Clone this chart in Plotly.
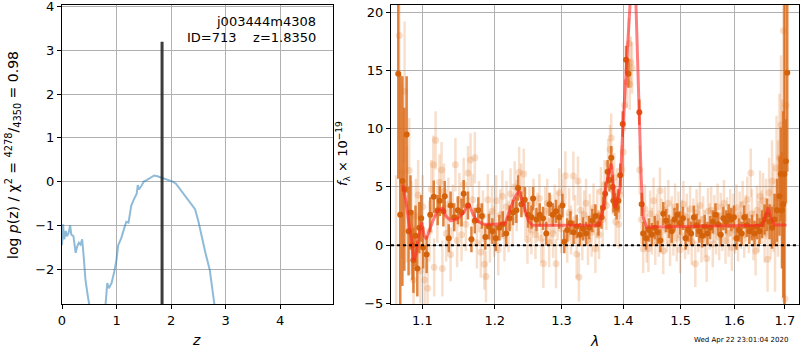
import plotly.graph_objects as go
import math

# ---------------- left panel: p(z) ----------------
pz_z1 = [0.00, 0.02, 0.04, 0.07, 0.09, 0.12, 0.15, 0.17, 0.21, 0.25, 0.28, 0.31, 0.34, 0.37, 0.40, 0.43, 0.48, 0.52]
pz_v1 = [-1.45, -0.98, -1.32, -1.13, -1.25, -1.18, -1.00, -1.21, -1.25, -1.63, -1.48, -1.40, -1.44, -1.32, -1.75, -2.25, -2.67, -2.95]
pz_z2 = [0.79, 0.81, 0.83, 0.86, 0.91, 0.96, 1.00, 1.03, 1.09, 1.15, 1.18, 1.22, 1.27, 1.32, 1.37, 1.39, 1.41, 1.46, 1.50,
         1.56, 1.62, 1.69, 1.75, 1.82, 1.92, 2.03, 2.09, 2.16, 2.25, 2.36, 2.44, 2.50, 2.56, 2.63, 2.71, 2.77, 2.81]
pz_v2 = [-2.95, -2.60, -2.32, -2.44, -2.32, -2.05, -1.78, -1.46, -1.28, -1.03, -0.92, -0.94, -0.55, -0.40, -0.28, -0.08,
         -0.18, -0.09, 0.00, 0.04, 0.08, 0.14, 0.12, 0.09, 0.05, 0.00, -0.05, -0.17, -0.32, -0.49, -0.63, -0.90, -1.25,
         -1.63, -2.02, -2.55, -2.95]
z_best = 1.835
z_best_top = 3.2

# ---------------- right panel: spectrum ----------------
dark_lam = [1.0687, 1.0712, 1.0740, 1.0765, 1.0795, 1.0820, 1.0845, 1.0870, 1.0883, 1.0910, 1.0934, 1.0960, 1.0985,
            1.1010, 1.1057, 1.1105, 1.1152, 1.1205, 1.1233, 1.1282, 1.1300, 1.1355, 1.1380, 1.1430, 1.1480, 1.1530,
            1.1560, 1.1620, 1.1668, 1.1715, 1.1765, 1.1815, 1.1865, 1.1915, 1.1965, 1.2015, 1.2065, 1.2115, 1.2165,
            1.2215, 1.2265, 1.2315, 1.2340, 1.2390, 1.2440, 1.2490, 1.2540, 1.2565, 1.2615, 1.2665, 1.2715, 1.2765,
            1.2815, 1.2865, 1.2915, 1.2965, 1.3015, 1.3044, 1.3090, 1.3140, 1.3190, 1.3240, 1.3290, 1.3340, 1.3390,
            1.3440, 1.3490, 1.3540, 1.3590, 1.3640, 1.3665, 1.3700, 1.3740, 1.3770, 1.3801, 1.3825, 1.3836, 1.3866,
            1.3890, 1.3920, 1.3950, 1.3992, 1.4048, 1.4088, 1.4274, 1.4314, 1.4340, 1.4390, 1.4440, 1.4490, 1.4540,
            1.4590, 1.4640, 1.4690, 1.4740, 1.4790, 1.4840, 1.4890, 1.4940, 1.4990, 1.5040, 1.5090, 1.5140, 1.5190,
            1.5240, 1.5290, 1.5340, 1.5390, 1.5440, 1.5490, 1.5540, 1.5590, 1.5640, 1.5690, 1.5740, 1.5790, 1.5840,
            1.5890, 1.5940, 1.5990, 1.6040, 1.6090, 1.6140, 1.6190, 1.6240, 1.6290, 1.6340, 1.6390, 1.6440, 1.6490,
            1.6540, 1.6590, 1.6640, 1.6690, 1.6740, 1.6790, 1.6840, 1.6890, 1.6915, 1.6940, 1.6965, 1.6990, 1.7020,
            1.7048]
dark_flux = [14.7, 2.6, 5.5, 4.8, 9.5, 1.2, 2.8, 0.0, -1.3, 0.8, -2.0, 1.5, 2.3,
             -0.2, -0.8, 2.6, 4.15, 3.0, 3.8, 2.9, 4.2, 0.6, 3.4, 2.4, 3.0, 2.8,
             4.4, 3.4, 0.5, 2.1, 3.0, 2.5, 0.7, 1.6, 1.2, 0.6, 1.5, 1.8, 1.0,
             2.3, 2.8, 3.0, 4.9, 3.5, 3.9, 2.6, 2.4, 4.0, 2.2, 2.6, 2.3, 1.0,
             3.5, 2.6, 2.9, 2.4, 3.4, 0.3, 1.3, 1.9, 1.1, 1.6, 0.9, 1.4, 1.0,
             1.5, 2.1, 2.5, 1.8, 2.4, 3.2, 4.4, 6.3, 5.6, 7.5, 5.0, 3.8, 3.5,
             3.2, 3.8, 6.0, 10.4, 15.9, 14.7, 11.4, 3.5, 1.0, 0.6, 1.3, 0.9, 1.5,
             1.1, 0.4, 2.7, 2.1, 1.6, 1.2, 2.2, 2.6, 1.9, 2.3, 0.6, 1.3, 1.0,
             2.4, 1.7, 1.2, 0.8, 1.6, 1.0, 1.5, 2.0, 2.6, 1.8, 0.9, 2.3, 2.0,
             2.5, 2.2, 2.4, 0.6, 1.3, 1.0, 2.4, 1.7, 1.2, 1.5, 1.0, 1.6, 1.2,
             1.8, 2.2, 2.6, 2.0, 1.5, 2.2, 3.0, 4.2, 6.1, 3.0, 3.5, 6.1, 7.2,
             14.8]
dark_err = [9.0, 12.0, 9.0, 7.0, 5.0, 3.8, 3.2, 3.0, 2.8, 2.6, 2.4, 2.2, 2.0,
            1.8, 1.6, 1.5, 1.4, 1.3, 1.3, 1.3, 1.3, 1.2, 1.2, 1.2, 1.2, 1.2,
            1.2, 1.2, 1.1, 1.1, 1.1, 1.1, 1.1, 1.1, 1.1, 1.1, 1.1, 1.1, 1.1,
            1.1, 1.1, 1.1, 1.1, 1.1, 1.1, 1.1, 1.0, 1.0, 1.0, 1.0, 1.0, 1.0,
            1.0, 1.0, 1.0, 1.0, 1.0, 1.0, 1.0, 1.0, 1.0, 1.0, 1.0, 1.0, 1.0,
            1.0, 1.0, 1.0, 1.0, 1.0, 1.0, 1.0, 1.0, 1.0, 1.0, 1.0, 1.0, 1.0,
            1.0, 1.0, 1.0, 1.1, 1.2, 1.2, 1.1, 1.0, 1.0, 1.0, 1.0, 1.0, 1.0,
            1.0, 1.0, 1.0, 1.0, 1.0, 1.0, 1.0, 1.0, 1.0, 1.0, 1.0, 1.0, 1.0,
            1.0, 1.0, 1.0, 1.0, 1.0, 1.0, 1.0, 1.0, 1.0, 1.0, 1.0, 1.0, 1.0,
            1.0, 1.0, 1.0, 1.0, 1.0, 1.0, 1.0, 1.0, 1.1, 1.1, 1.1, 1.1, 1.1,
            1.2, 1.3, 1.4, 1.5, 1.8, 2.2, 2.7, 3.4, 4.0, 5.0, 8.0, 15.0, 3.6,
            8.5]

pale_lam = [1.0660, 1.0700, 1.0735, 1.0768, 1.0800, 1.0828, 1.0858, 1.0885, 1.0915, 1.0945, 1.0975, 1.1005, 1.1031, 1.1070,
            1.1095, 1.1120, 1.1146, 1.1157, 1.1177, 1.1200, 1.1228, 1.1257, 1.1268, 1.1290, 1.1320, 1.1350, 1.1380, 1.1410,
            1.1446, 1.1470, 1.1500, 1.1530, 1.1560, 1.1590, 1.1620, 1.1656, 1.1685, 1.1716, 1.1745, 1.1775, 1.1800, 1.1830,
            1.1851, 1.1874, 1.1900, 1.1930, 1.1960, 1.1990, 1.2020, 1.2050, 1.2080, 1.2110, 1.2140, 1.2170, 1.2200, 1.2230,
            1.2260, 1.2290, 1.2320, 1.2356, 1.2385, 1.2424, 1.2450, 1.2480, 1.2510, 1.2540, 1.2570, 1.2600, 1.2630, 1.2660,
            1.2690, 1.2721, 1.2750, 1.2780, 1.2810, 1.2840, 1.2870, 1.2895, 1.2915, 1.2940, 1.2967, 1.2995, 1.3025, 1.3061,
            1.3090, 1.3120, 1.3150, 1.3187, 1.3215, 1.3240, 1.3261, 1.3275, 1.3300, 1.3330, 1.3360, 1.3390, 1.3420, 1.3450,
            1.3480, 1.3510, 1.3540, 1.3570, 1.3600, 1.3630, 1.3660, 1.3690, 1.3720, 1.3750, 1.3780, 1.3800, 1.3825, 1.3850,
            1.3875, 1.3900, 1.3925, 1.3950, 1.3975, 1.4000, 1.4025, 1.4060, 1.4097, 1.4110, 1.4129, 1.4150, 1.4280, 1.4310,
            1.4340, 1.4370, 1.4400, 1.4430, 1.4460, 1.4490, 1.4520, 1.4550, 1.4580, 1.4610, 1.4632, 1.4660, 1.4690, 1.4720,
            1.4750, 1.4780, 1.4810, 1.4840, 1.4870, 1.4900, 1.4930, 1.4960, 1.4990, 1.5020, 1.5050, 1.5080, 1.5110, 1.5140,
            1.5170, 1.5200, 1.5230, 1.5266, 1.5290, 1.5320, 1.5350, 1.5380, 1.5410, 1.5440, 1.5476, 1.5500, 1.5530, 1.5560,
            1.5590, 1.5620, 1.5650, 1.5680, 1.5710, 1.5740, 1.5770, 1.5800, 1.5830, 1.5860, 1.5890, 1.5920, 1.5950, 1.5980,
            1.6010, 1.6040, 1.6070, 1.6100, 1.6130, 1.6160, 1.6190, 1.6220, 1.6250, 1.6280, 1.6317, 1.6340, 1.6370, 1.6413,
            1.6440, 1.6470, 1.6500, 1.6530, 1.6560, 1.6590, 1.6620, 1.6650, 1.6680, 1.6710, 1.6740, 1.6770, 1.6800, 1.6830,
            1.6860, 1.6890, 1.6920, 1.6945, 1.6970, 1.7000, 1.7020]
pale_flux = [-6.0, 18.0, 6.3, 13.2, 3.5, 6.4, 1.5, -3.0, 2.5, 4.3, -2.2, 3.3, -3.0, -3.7,
             1.2, 4.8, 6.9, -1.9, 9.0, 2.6, 5.4, 6.45, -2.0, 4.6, 1.0, 3.5, -0.8, 2.9,
             6.9, 0.4, 3.9, 0.9, 5.2, 1.8, 6.2, 7.3, 3.9, 7.5, 0.2, 3.3, -0.6, 2.5,
             -1.63, -2.7, 3.9, 0.7, 2.9, 1.2, 3.8, -0.4, 2.6, 4.2, 0.8, 3.3, 1.6, 4.4,
             2.2, 5.0, 3.4, 6.25, 4.8, 6.1, 2.8, 0.5, 2.9, 1.3, 3.6, 0.9, 2.4, 4.0,
             0.6, -1.58, 2.9, 3.6, 0.2, 2.2, 1.0, 3.1, -1.6, 2.5, 4.5, 1.4, 3.6, 5.96,
             0.6, 2.8, 1.3, 5.93, 2.2, -0.77, 5.5, -2.75, 3.0, 0.8, 2.6, 3.6, 0.4, 2.3,
             1.1, 3.2, -0.3, 2.7, 0.9, 4.6, 2.2, 5.2, 3.4, 7.0, 8.2, 9.2, 4.7, 5.8,
             2.0, 4.5, 1.8, 4.3, 6.5, 8.0, 12.0, 14.0, 17.3, 13.8, 15.7, 15.2, 6.45, 2.2,
             -0.3, 3.1, 0.6, -0.3, 2.7, 1.2, 3.8, 0.3, 2.4, 1.0, 4.67, 2.0, -0.5, 3.0,
             1.4, 3.6, 0.2, 2.2, 1.1, 3.3, 0.6, 2.6, -0.4, 1.9, 3.5, 0.8, 2.4, 1.2,
             3.1, 0.3, 2.0, -1.6, 2.8, 1.4, 3.4, 0.5, 2.2, 1.0, -1.15, 2.9, 1.6, 3.0,
             0.1, 2.3, 1.2, 3.3, 0.7, 2.5, 1.5, 3.6, 0.4, 2.1, 1.0, 2.8, -0.2, 2.4,
             1.3, 3.2, 0.6, 2.6, 1.7, 3.5, 0.9, 2.3, 3.9, 1.4, 6.2, 2.7, 0.8, -0.5,
             3.0, 1.6, 4.2, 2.4, 3.8, 1.0, 3.1, -1.2, 4.5, 2.0, 5.5, 3.2, 0.2, 6.6,
             4.0, 7.5, 10.3, 5.5, 18.4, -4.6, 12.0]
pale_err = [12.0, 9.0, 7.5, 6.0, 5.0, 4.5, 4.0, 3.5, 3.2, 3.0, 2.8, 2.7, 2.7, 2.6,
            2.6, 2.5, 2.5, 2.5, 2.5, 2.4, 2.4, 2.4, 2.4, 2.4, 2.4, 2.3, 2.3, 2.3,
            2.3, 2.3, 2.3, 2.3, 2.3, 2.3, 2.3, 2.3, 2.2, 2.2, 2.2, 2.2, 2.2, 2.2,
            2.2, 2.2, 2.2, 2.2, 2.2, 2.2, 2.2, 2.2, 2.2, 2.2, 2.2, 2.2, 2.2, 2.2,
            2.2, 2.2, 2.2, 2.2, 2.2, 2.2, 2.1, 2.1, 2.1, 2.1, 2.1, 2.1, 2.1, 2.1,
            2.1, 2.1, 2.1, 2.1, 2.1, 2.1, 2.1, 2.1, 2.1, 2.1, 2.1, 2.1, 2.1, 2.1,
            2.1, 2.1, 2.1, 2.1, 2.1, 2.1, 2.1, 2.1, 2.1, 2.1, 2.1, 2.1, 2.1, 2.1,
            2.1, 2.1, 2.1, 2.1, 2.1, 2.1, 2.1, 2.1, 2.1, 2.1, 2.1, 2.1, 2.1, 2.1,
            2.1, 2.1, 2.1, 2.1, 2.1, 2.1, 2.2, 2.2, 2.2, 2.2, 2.2, 2.2, 2.1, 2.1,
            2.1, 2.1, 2.1, 2.0, 2.0, 2.0, 2.0, 2.0, 2.0, 2.0, 2.0, 2.0, 2.0, 2.0,
            2.0, 2.0, 2.0, 2.0, 2.0, 2.0, 2.0, 2.0, 2.0, 2.0, 2.0, 2.0, 2.0, 2.0,
            2.0, 2.0, 2.0, 2.0, 2.0, 2.0, 2.0, 2.0, 2.0, 2.0, 2.0, 2.0, 2.0, 2.0,
            2.0, 2.0, 2.0, 2.0, 2.0, 2.0, 2.0, 2.0, 2.0, 2.0, 2.0, 2.0, 2.0, 2.0,
            2.0, 2.0, 2.0, 2.0, 2.0, 2.0, 2.0, 2.0, 2.0, 2.1, 2.1, 2.1, 2.1, 2.1,
            2.1, 2.2, 2.2, 2.3, 2.4, 2.5, 2.6, 2.8, 3.0, 3.2, 3.5, 3.8, 4.2, 4.5,
            5.0, 5.5, 6.0, 7.0, 8.0, 9.0, 10.0]

model_lam = [1.0745, 1.0790, 1.0830, 1.0860, 1.0887, 1.0917, 1.0961, 1.0992, 1.1026, 1.1053, 1.1092, 1.1158, 1.1203,
             1.1270, 1.1314, 1.1381, 1.1471, 1.1561, 1.1629, 1.1689, 1.1744, 1.1835, 1.2000, 1.2150, 1.2215, 1.2290,
             1.2355, 1.2421, 1.2493, 1.2551, 1.3000, 1.3600, 1.3668, 1.3720, 1.3765, 1.3801, 1.3836, 1.3866, 1.3901,
             1.3948, 1.3992, 1.4048, 1.4114, 1.4165, 1.4216, 1.4261, 1.4303, 1.4340, 1.4398, 1.4500, 1.5000, 1.5500,
             1.6000, 1.6540, 1.6600, 1.6664, 1.6720, 1.6787, 1.7035]
model_flux = [5.2, 3.6, 1.6, 0.4, -1.35, -0.77, 1.08, 1.94, 0.8, 0.52, 1.23, 2.37, 2.95,
              3.18, 2.52, 2.09, 2.24, 2.8, 3.58, 2.66, 2.09, 1.8, 1.8, 1.85, 2.95, 4.1,
              4.67, 3.5, 2.09, 1.7, 1.7, 1.7, 3.2, 5.2, 6.4, 7.0, 5.0, 3.2, 3.8,
              4.96, 9.8, 15.3, 20.66, 25.0, 20.66, 12.4, 6.1, 2.4, 1.55, 1.55, 1.58, 1.6,
              1.65, 1.7, 2.4, 3.23, 2.3, 1.72, 1.72]

wave_ticks = [1.1, 1.2, 1.3, 1.4, 1.5, 1.6, 1.7]
flux_ticks = [-5, 0, 5, 10, 15, 20]
z_ticks = [0, 1, 2, 3, 4]
lnp_ticks = [-2, -1, 0, 1, 2, 3, 4]

obj_name = "j003444m4308"
obj_id = 713
chi2_num, chi2_den, chi2_ratio = 4278, 4350, 0.98
timestamp = "Wed Apr 22 23:01:04 2020"

# ---------------- figure ----------------
W, H = 800, 350
FONT = "DejaVu Sans"
GRID = "#b0b0b0"


def fx(px):
    return px / W


def fy(py):
    return (H - py) / H


fig = go.Figure()

blue = "rgba(31,119,180,0.5)"
fig.add_trace(go.Scatter(x=pz_z1, y=pz_v1, mode="lines", line=dict(color=blue, width=2),
                         xaxis="x", yaxis="y", showlegend=False, hoverinfo="skip"))
fig.add_trace(go.Scatter(x=pz_z2, y=pz_v2, mode="lines", line=dict(color=blue, width=2),
                         xaxis="x", yaxis="y", showlegend=False, hoverinfo="skip"))
fig.add_trace(go.Scatter(x=[z_best, z_best], y=[-5, z_best_top], mode="lines",
                         line=dict(color="rgba(40,40,40,0.9)", width=3),
                         xaxis="x", yaxis="y", showlegend=False, hoverinfo="skip"))

pale_c = "rgba(226,120,40,0.24)"
fig.add_trace(go.Scatter(x=pale_lam, y=pale_flux, mode="markers",
                         marker=dict(color=pale_c, size=7, line=dict(width=0)),
                         error_y=dict(type="data", array=pale_err, color=pale_c, thickness=2.5, width=0),
                         xaxis="x2", yaxis="y2", showlegend=False, hoverinfo="skip"))
dark_c = "rgba(212,98,10,1)"
fig.add_trace(go.Scatter(x=dark_lam, y=dark_flux, mode="markers",
                         marker=dict(color=dark_c, size=6, line=dict(width=0)),
                         error_y=dict(type="data", array=dark_err, color="rgba(218,110,30,0.85)", thickness=2.5, width=0),
                         xaxis="x2", yaxis="y2", showlegend=False, hoverinfo="skip"))
fig.add_trace(go.Scatter(x=model_lam, y=model_flux, mode="lines",
                         line=dict(color="rgba(255,40,40,0.6)", width=3),
                         xaxis="x2", yaxis="y2", showlegend=False, hoverinfo="skip"))
fig.add_trace(go.Scatter(x=[1.0, 1.8], y=[0, 0], mode="lines",
                         line=dict(color="black", width=2, dash="dot"),
                         xaxis="x2", yaxis="y2", showlegend=False, hoverinfo="skip"))

ydom = [fy(304), fy(4.5)]
axis_common = dict(showline=True, linecolor="black", linewidth=1, mirror=True, showgrid=True,
                   gridcolor=GRID, gridwidth=1, ticks="outside", ticklen=4, tickcolor="black",
                   tickfont=dict(family=FONT, size=13, color="black"), zeroline=False, automargin=False,
                   ticklabeloverflow="allow")

fig.update_layout(
    width=W, height=H, margin=dict(l=0, r=0, t=0, b=0),
    paper_bgcolor="white", plot_bgcolor="white",
    font=dict(family=FONT, color="black"),
    xaxis=dict(domain=[fx(62), fx(333)], range=[0, 4.97], tickvals=z_ticks, anchor="y", **axis_common),
    yaxis=dict(domain=ydom, range=[-2.8, 4.05], tickvals=lnp_ticks, anchor="x", **axis_common),
    xaxis2=dict(domain=[fx(391), fx(799)], type="log",
                range=[math.log10(1.0594), math.log10(1.729)],
                tickvals=wave_ticks, ticktext=[str(t) for t in wave_ticks], anchor="y2", **axis_common),
    yaxis2=dict(domain=ydom, range=[-5.05, 20.65], tickvals=flux_ticks, anchor="x2", **axis_common),
)

ann = [
    dict(text=obj_name, x=fx(318), y=fy(22), xanchor="right", yanchor="middle", font=dict(size=13)),
    dict(text=f"ID={obj_id}\u00a0\u00a0\u00a0\u00a0z={z_best:.4f}", x=fx(318), y=fy(37),
         xanchor="right", yanchor="middle", font=dict(size=13)),
    dict(text=f"log <i>p</i>(z) / χ<sup>2</sup> = <sup>{chi2_num}</sup>/<sub>{chi2_den}</sub> = {chi2_ratio}",
         x=fx(13), y=fy(155), textangle=-90, xanchor="center", yanchor="middle", font=dict(size=14)),
    dict(text="<i>f</i><sub>λ</sub> × 10<sup>−19</sup>", x=fx(343), y=fy(154), textangle=-90,
         xanchor="center", yanchor="middle", font=dict(size=13)),
    dict(text="<i>z</i>", x=fx(196), y=fy(340), xanchor="center", yanchor="middle", font=dict(size=14)),
    dict(text="<i>λ</i>", x=fx(594), y=fy(341), xanchor="center", yanchor="middle", font=dict(size=14)),
    dict(text=timestamp, x=fx(741), y=fy(340), xanchor="center", yanchor="middle", font=dict(size=7)),
]
for a in ann:
    a.update(xref="paper", yref="paper", showarrow=False)
fig.update_layout(annotations=ann)

fig.write_html("out.html", config={"displayModeBar": False},
               post_script="document.body.style.margin='0';document.body.style.overflow='hidden';")
